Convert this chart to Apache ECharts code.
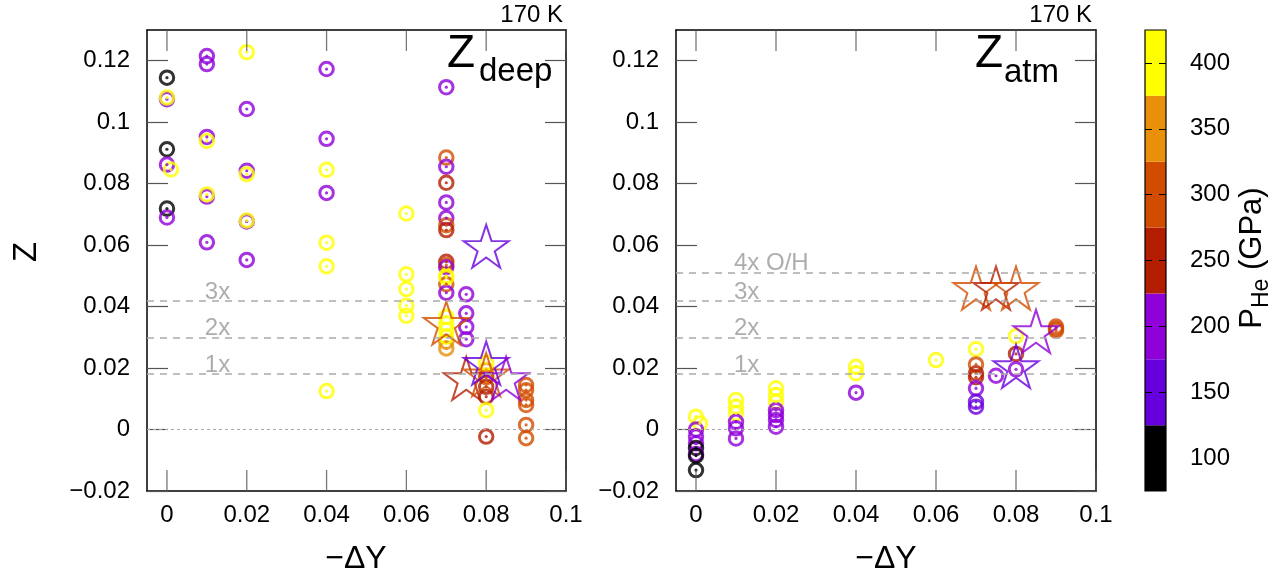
<!DOCTYPE html>
<html><head><meta charset="utf-8">
<script src="https://cdn.jsdelivr.net/npm/echarts@6/dist/echarts.min.js"></script>
<style>html,body{margin:0;padding:0;background:#fff}#c{width:1286px;height:576px}</style>
</head><body><div id="c"></div>
<script>
// ---------- data: [ -dY, Z, P_He (GPa) ] ----------
const deepRings = [
  [0, 0.1145, 100], [0, 0.1075, 200], [0, 0.1080, 400], [0, 0.0912, 100], [0, 0.0862, 200], [0.001, 0.0846, 400],
  [0, 0.0719, 100], [0, 0.0690, 200],
  [0.01, 0.1215, 200], [0.01, 0.1189, 200], [0.01, 0.0952, 200], [0.01, 0.0939, 400], [0.01, 0.0758, 200], [0.01, 0.0765, 400], [0.01, 0.0609, 200],
  [0.02, 0.1228, 400], [0.02, 0.1043, 200], [0.02, 0.0842, 200], [0.02, 0.0831, 400], [0.02, 0.0677, 200], [0.02, 0.0680, 400], [0.02, 0.0552, 200],
  [0.04, 0.1173, 200], [0.04, 0.0946, 200], [0.04, 0.0845, 400], [0.04, 0.0770, 200], [0.04, 0.0608, 400], [0.04, 0.0531, 400], [0.04, 0.0125, 400],
  [0.06, 0.0703, 400], [0.06, 0.0505, 400], [0.06, 0.0457, 400], [0.06, 0.0403, 400], [0.06, 0.0370, 400],
  [0.07, 0.1114, 200], [0.07, 0.0885, 300], [0.07, 0.0855, 200], [0.07, 0.0803, 250], [0.07, 0.0739, 200], [0.07, 0.0688, 200],
  [0.07, 0.0665, 300], [0.07, 0.0649, 250], [0.07, 0.0546, 250], [0.07, 0.0535, 300], [0.07, 0.0528, 200], [0.07, 0.0500, 400],
  [0.07, 0.0473, 300], [0.07, 0.0445, 200], [0.07, 0.0264, 350], [0.07, 0.0286, 350], [0.07, 0.0302, 400], [0.07, 0.0324, 400],
  [0.07, 0.0345, 400], [0.07, 0.0367, 400], [0.07, 0.0495, 400],
  [0.075, 0.0440, 200], [0.075, 0.0378, 200], [0.075, 0.0334, 200], [0.075, 0.0294, 200],
  [0.08, 0.0193, 350], [0.08, 0.0175, 350], [0.08, 0.0170, 300], [0.08, 0.0139, 250], [0.08, 0.0107, 250], [0.08, 0.0217, 400],
  [0.08, 0.0063, 400], [0.08, -0.0023, 250],
  [0.09, 0.0145, 300], [0.09, 0.0128, 300], [0.09, 0.0096, 300], [0.09, 0.0080, 300], [0.09, 0.0015, 300], [0.09, -0.0028, 300]
];
const deepStars = [
  [0.08, 0.0590, 150], [0.07, 0.0340, 300], [0.075, 0.0160, 250], [0.08, 0.0172, 300], [0.08, 0.0210, 150], [0.085, 0.0160, 200]
];
const atmRings = [
  [0, 0.0042, 400], [0.001, 0.0020, 400], [0, 0.0000, 200], [0, -0.0023, 200], [0, -0.0045, 200], [0, -0.0060, 100],
  [0, -0.0080, 200], [0, -0.0085, 100], [0, -0.0132, 100],
  [0.01, 0.0096, 400], [0.01, 0.0074, 400], [0.01, 0.0053, 400], [0.01, 0.0025, 200], [0.01, 0.0004, 200], [0.01, -0.0029, 200],
  [0.02, 0.0134, 400], [0.02, 0.0112, 400], [0.02, 0.0090, 400], [0.02, 0.0063, 200], [0.02, 0.0047, 200], [0.02, 0.0031, 200], [0.02, 0.0009, 200],
  [0.04, 0.0204, 400], [0.04, 0.0183, 400], [0.04, 0.0120, 200],
  [0.06, 0.0226, 400],
  [0.07, 0.0262, 400], [0.07, 0.0212, 300], [0.07, 0.0183, 250], [0.07, 0.0170, 250], [0.07, 0.0134, 200], [0.07, 0.0090, 150], [0.07, 0.0074, 150],
  [0.075, 0.0175, 200],
  [0.08, 0.0304, 400], [0.08, 0.0246, 250], [0.08, 0.0196, 200],
  [0.09, 0.0335, 300], [0.09, 0.0328, 300], [0.09, 0.0322, 300]
];
const atmStars = [
  [0.07, 0.0454, 300], [0.075, 0.0454, 250], [0.08, 0.0454, 300], [0.085, 0.0313, 200], [0.08, 0.0199, 150]
];
const deepLevels = [0.0180, 0.0299, 0.0418];
const deepLevelLabels = ['1x', '2x', '3x'];
const atmLevels = [0.0180, 0.0299, 0.0418, 0.0510];
const atmLevelLabels = ['1x', '2x', '3x', '4x O/H'];
const xTicks = [0, 0.02, 0.04, 0.06, 0.08, 0.1];
const yTicks = [-0.02, 0, 0.02, 0.04, 0.06, 0.08, 0.1, 0.12];
const cbEdges = [75, 125, 175, 225, 275, 325, 375, 425];
const cbColors = ['#000000', '#6600dc', '#9000d8', '#b41e00', '#d24c00', '#e8900a', '#ffff00'];
const cbTicks = [100, 150, 200, 250, 300, 350, 400];

// ---------- helpers ----------
const FONT = '"Liberation Sans", Arial, Helvetica, sans-serif';
const TICKFS = 24;
const XMIN = -0.005, XMAX = 0.1, YMIN = -0.02, YMAX = 0.13;
const TICKLEN = 21;
function colorOf(p) {
  for (let i = 0; i < cbColors.length; i++) if (p >= cbEdges[i] && p < cbEdges[i + 1]) return cbColors[i];
  return cbColors[cbColors.length - 1];
}
function fmt(v) {
  const s = String(Number(v.toFixed(4)));
  return s.replace('-', '\u2212');
}
const STAR = 'path://M0,-1 L0.2245,-0.309 L0.951,-0.309 L0.363,0.118 L0.588,0.809 L0,0.382 L-0.588,0.809 L-0.363,0.118 L-0.951,-0.309 L-0.2245,-0.309 Z';

const grids = [
  { left: 147, top: 30, width: 419, height: 461 },
  { left: 676, top: 30, width: 420, height: 461 }
];

function mkX(g, pos, labels) {
  return {
    type: 'value', gridIndex: g, position: pos, min: XMIN, max: XMAX,
    axisLine: { show: true, onZero: false, lineStyle: { color: '#000', width: 1.5 } }, splitLine: { show: false },
    axisTick: { show: false },
    axisLabel: { show: labels, customValues: xTicks, formatter: fmt, margin: 12, fontSize: TICKFS, fontFamily: FONT, color: '#000' }
  };
}
function mkY(g, pos, labels) {
  return {
    type: 'value', gridIndex: g, position: pos, min: YMIN, max: YMAX,
    axisLine: { show: true, onZero: false, lineStyle: { color: '#000', width: 1.5 } }, splitLine: { show: false },
    axisTick: { show: true, inside: true, length: TICKLEN, customValues: yTicks, lineStyle: { color: '#555', width: 1.2 } },
    axisLabel: { show: labels, customValues: yTicks, formatter: fmt, margin: 17, fontSize: TICKFS, fontFamily: FONT, color: '#000' }
  };
}

function panelSeries(g, rings, stars, levels, levelLabels) {
  const out = [];
  // x-axis tick marks at bottom and top edges: thin rectangles placed at the tick values by the axis scale
  out.push({
    type: 'scatter', xAxisIndex: g, yAxisIndex: g, silent: true, z: 6, clip: false,
    symbol: 'rect', symbolSize: [1.3, TICKLEN], symbolOffset: [0, -TICKLEN / 2],
    itemStyle: { color: '#555' },
    data: xTicks.map(v => [v, YMIN])
  });
  out.push({
    type: 'scatter', xAxisIndex: g, yAxisIndex: g, silent: true, z: 6, clip: false,
    symbol: 'rect', symbolSize: [1.3, TICKLEN], symbolOffset: [0, TICKLEN / 2],
    itemStyle: { color: '#555' },
    data: xTicks.map(v => [v, YMAX])
  });
  const lineData = levels.map(v => ({ yAxis: v, lineStyle: { type: [7, 6], width: 1.5, color: '#aaaaaa' } }));
  lineData.push({ yAxis: 0, lineStyle: { type: [3, 3], width: 1, color: '#aaaaaa' } });
  out.push({
    type: 'scatter', xAxisIndex: g, yAxisIndex: g, symbolSize: 0, silent: true, z: 1,
    data: levels.map((v, i) => ({ name: levelLabels[i], value: [0.0095, v] })),
    label: { show: true, position: [0, 0], align: 'left', verticalAlign: 'bottom', offset: [0, 3],
      formatter: p => p.name, fontSize: 24, fontFamily: FONT, color: '#999999' },
    markLine: { silent: true, symbol: 'none', precision: 6, label: { show: false }, animation: false, data: lineData }
  });
  out.push({
    type: 'scatter', xAxisIndex: g, yAxisIndex: g, symbol: 'circle', symbolSize: 13.5, silent: true, z: 2,
    data: rings.map(r => ({ value: r, itemStyle: { color: 'rgba(0,0,0,0)', borderColor: colorOf(r[2]), borderWidth: 3 } }))
  });
  out.push({
    type: 'scatter', xAxisIndex: g, yAxisIndex: g, symbol: 'circle', symbolSize: 3.2, silent: true, z: 3,
    data: rings.map(r => ({ value: r, itemStyle: { color: colorOf(r[2]) } }))
  });
  out.push({
    type: 'scatter', xAxisIndex: g, yAxisIndex: g, symbol: STAR, symbolSize: [45, 43], symbolOffset: [0, -2], silent: true, z: 4,
    data: stars.map(r => ({ value: r, itemStyle: { color: 'rgba(0,0,0,0)', borderColor: colorOf(r[2]), borderWidth: 2 } }))
  });
  return out;
}

const cbSeries = {
  type: 'custom', xAxisIndex: 4, yAxisIndex: 4, silent: true, z: 2,
  data: cbColors.map((c, i) => [cbEdges[i], cbEdges[i + 1], i]),
  renderItem: (params, api) => {
    const a = api.coord([0, api.value(1)]);
    const b = api.coord([1, api.value(0)]);
    return { type: 'rect', shape: { x: a[0], y: a[1], width: b[0] - a[0], height: b[1] - a[1] },
      style: { fill: cbColors[api.value(2)] } };
  }
};

const option = {
  animation: false,
  backgroundColor: '#ffffff',
  grid: [
    Object.assign({ show: false }, grids[0]),
    Object.assign({ show: false }, grids[1]),
    { left: 1145, top: 30, width: 21, height: 461, show: true, borderColor: '#000', borderWidth: 1.2, backgroundColor: 'transparent', z: 5 }
  ],
  xAxis: [
    mkX(0, 'bottom', true), mkX(1, 'bottom', true), mkX(0, 'top', false), mkX(1, 'top', false),
    { type: 'value', gridIndex: 2, min: 0, max: 1, show: false, axisLine: { onZero: false } }
  ],
  yAxis: [
    mkY(0, 'left', true), mkY(1, 'left', true), mkY(0, 'right', false), mkY(1, 'right', false),
    { type: 'value', gridIndex: 2, position: 'right', min: 75, max: 425, z: 6,
      axisLine: { show: false, onZero: false }, splitLine: { show: false },
      axisTick: { show: true, inside: true, length: 7, customValues: cbTicks, lineStyle: { color: '#000', width: 1 } },
      axisLabel: { show: true, customValues: cbTicks, margin: 24, fontSize: TICKFS, fontFamily: FONT, color: '#000' } },
    { type: 'value', gridIndex: 2, position: 'left', min: 75, max: 425, z: 6,
      axisLine: { show: false, onZero: false }, splitLine: { show: false },
      axisTick: { show: true, inside: true, length: 7, customValues: cbTicks, lineStyle: { color: '#000', width: 1 } },
      axisLabel: { show: false } }
  ],
  series: [].concat(
    panelSeries(0, deepRings, deepStars, deepLevels, deepLevelLabels),
    panelSeries(1, atmRings, atmStars, atmLevels, atmLevelLabels),
    [cbSeries]
  ),
  graphic: [
    { type: 'text', x: 563, y: 15, style: { text: '170 K', fontSize: TICKFS, fontFamily: FONT, fill: '#000', align: 'right', verticalAlign: 'middle' } },
    { type: 'text', x: 1092, y: 15, style: { text: '170 K', fontSize: TICKFS, fontFamily: FONT, fill: '#000', align: 'right', verticalAlign: 'middle' } },
    { type: 'text', x: 447, y: 54, z: 10, style: { text: 'Z', fontSize: 46, fontFamily: FONT, fill: '#000', align: 'left', verticalAlign: 'middle' } },
    { type: 'text', x: 479, y: 72, z: 10, style: { text: 'deep', fontSize: 33, fontFamily: FONT, fill: '#000', align: 'left', verticalAlign: 'middle' } },
    { type: 'text', x: 975, y: 54, z: 10, style: { text: 'Z', fontSize: 46, fontFamily: FONT, fill: '#000', align: 'left', verticalAlign: 'middle' } },
    { type: 'text', x: 1004, y: 73, z: 10, style: { text: 'atm', fontSize: 33, fontFamily: FONT, fill: '#000', align: 'left', verticalAlign: 'middle' } },
    { type: 'text', x: 27, y: 252, rotation: Math.PI / 2, style: { text: 'Z', fontSize: 33, fontFamily: FONT, fill: '#000', align: 'center', verticalAlign: 'middle' } },
    { type: 'text', x: 356, y: 559, style: { text: '\u2212\u0394Y', fontSize: 32, fontFamily: FONT, fill: '#000', align: 'center', verticalAlign: 'middle' } },
    { type: 'text', x: 886, y: 559, style: { text: '\u2212\u0394Y', fontSize: 32, fontFamily: FONT, fill: '#000', align: 'center', verticalAlign: 'middle' } },
    { type: 'text', x: 1252, y: 258, rotation: Math.PI / 2, style: {
      text: '{p|P}{s|He}{p| (GPa)}', align: 'center', verticalAlign: 'middle', fill: '#000',
      rich: {
        p: { fontSize: 31, fontFamily: FONT, fill: '#000', lineHeight: 42, verticalAlign: 'middle' },
        s: { fontSize: 23, fontFamily: FONT, fill: '#000', lineHeight: 42, verticalAlign: 'bottom' }
      } } }
  ]
};
const chart = echarts.init(document.getElementById('c'), null, { renderer: 'canvas' });
chart.setOption(option);
</script>
</body></html>
